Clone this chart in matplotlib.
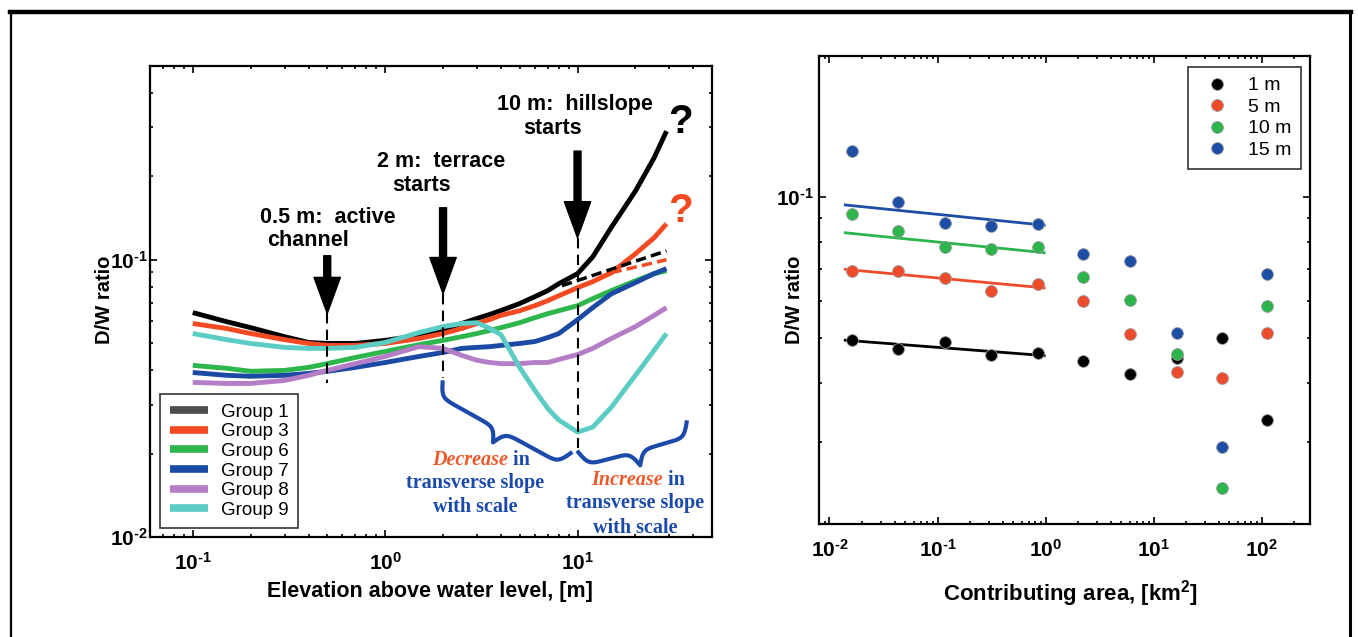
import numpy as np
import matplotlib
matplotlib.use('Agg')
import matplotlib.pyplot as plt
from matplotlib.lines import Line2D
from matplotlib.ticker import LogLocator, NullFormatter, FuncFormatter

plt.rcParams['font.family'] = ['Liberation Sans', 'DejaVu Sans']
plt.rcParams['mathtext.fontset'] = 'custom'
plt.rcParams['mathtext.rm'] = 'Liberation Sans:bold'
plt.rcParams['mathtext.bf'] = 'Liberation Sans:bold'
plt.rcParams['mathtext.it'] = 'Liberation Sans:bold:italic'
plt.rcParams['mathtext.sf'] = 'Liberation Sans:bold'

# ---- left panel: D/W ratio vs elevation, per group ----
elev = [0.1, 0.15, 0.2, 0.3, 0.4, 0.5, 0.7, 1, 1.5, 2, 2.5, 3, 3.5, 4, 5, 6, 7, 8, 10, 12, 15, 20, 25, 29]
group1 = [0.0645, 0.0598, 0.0569, 0.0528, 0.0503, 0.0499, 0.0499, 0.0512, 0.0533, 0.0556, 0.0589, 0.0614,
          0.0635, 0.0656, 0.0695, 0.0736, 0.0774, 0.0820, 0.0891, 0.1025, 0.1310, 0.1770, 0.2330, 0.2910]
group3 = [0.0589, 0.0565, 0.0542, 0.0515, 0.0499, 0.0491, 0.0491, 0.0499, 0.0520, 0.0542, 0.0565, 0.0589,
          0.0609, 0.0630, 0.0655, 0.0683, 0.0712, 0.0742, 0.0793, 0.0834, 0.0898, 0.1051, 0.1200, 0.1348]
group6 = [0.0416, 0.0406, 0.0396, 0.0399, 0.0409, 0.0422, 0.0444, 0.0467, 0.0494, 0.0512, 0.0528, 0.0542,
          0.0556, 0.0569, 0.0593, 0.0618, 0.0639, 0.0655, 0.0683, 0.0724, 0.0774, 0.0840, 0.0891, 0.0913]
group7 = [0.0392, 0.0383, 0.0380, 0.0383, 0.0389, 0.0396, 0.0409, 0.0426, 0.0448, 0.0463, 0.0479, 0.0483,
          0.0486, 0.0491, 0.0499, 0.0507, 0.0524, 0.0542, 0.0608, 0.0672, 0.0754, 0.0827, 0.0891, 0.0929]
group8 = [0.0361, 0.0358, 0.0358, 0.0367, 0.0383, 0.0399, 0.0422, 0.0448, 0.0486, 0.0479, 0.0452, 0.0434,
          0.0426, 0.0422, 0.0422, 0.0426, 0.0426, 0.0437, 0.0455, 0.0479, 0.0520, 0.0574, 0.0630, 0.0672]
group9 = [0.0542, 0.0515, 0.0499, 0.0483, 0.0479, 0.0479, 0.0483, 0.0503, 0.0546, 0.0574, 0.0589, 0.0593,
          0.0565, 0.0537, 0.0409, 0.0338, 0.0291, 0.0264, 0.0239, 0.0249, 0.0294, 0.0383, 0.0471, 0.0542]
group_names = ['Group 1', 'Group 3', 'Group 6', 'Group 7', 'Group 8', 'Group 9']
group_cols = ['#000000', '#f34a22', '#2db64b', '#1b4aa5', '#b57dc6', '#5ccdc5']

# extrapolated (dashed) trends
dash1_x, dash1_y = [8.3, 29], [0.0806, 0.1077]
dash3_x, dash3_y = [15, 29], [0.0898, 0.100]

# marked scales: elevation, arrow top, arrow tip, dashed-line bottom
marks_x = [0.5, 2, 10]
arrow_top = [0.1034, 0.154, 0.2466]
arrow_tip = [0.064, 0.0755, 0.120]
dash_bottom = [0.0359, 0.0373, 0.0209]

# ---- right panel: D/W ratio vs contributing area ----
area = [0.0163, 0.0435, 0.116, 0.31, 0.843, 2.2, 6.0, 16.3, 42.7, 111]
dw_1m = [0.0495, 0.0473, 0.0490, 0.0459, 0.0463, 0.0445, 0.0418, 0.0453, 0.0499, 0.0333]
dw_5m = [0.0694, 0.0696, 0.0671, 0.0629, 0.0650, 0.0598, 0.0509, 0.0422, 0.0411, 0.0513]
dw_10m = [0.0920, 0.0846, 0.0782, 0.0774, 0.0782, 0.0674, 0.0603, 0.0461, 0.0239, 0.0586]
dw_15m = [0.1256, 0.0975, 0.0880, 0.0867, 0.0875, 0.0755, 0.0729, 0.0511, 0.0292, 0.0684]
fit_area = [0.014, 0.97]
fit_1m = [0.0494, 0.0458]
fit_5m = [0.0700, 0.0639]
fit_10m = [0.0838, 0.0760]
fit_15m = [0.0961, 0.0870]
size_names = ['1 m', '5 m', '10 m', '15 m']
size_cols = ['#000000', '#ee4b2b', '#2bb54b', '#1c4ea6']

BLUE_TXT = '#1c4aaa'
RED_TXT = '#f05a2a'


def decade_label(v, pos):
    e = int(np.round(np.log10(v)))
    sign = '\u2010' if e < 0 else ''
    return r'$\mathbf{10^{%s%d}}$' % (sign, abs(e))


def style_axes(ax, ypad):
    ax.set_xscale('log')
    ax.set_yscale('log')
    for s in ax.spines.values():
        s.set_linewidth(1.6)
    ax.tick_params(which='both', direction='in', top=True, right=True, width=1.2)
    ax.tick_params(which='major', length=5, labelsize=15)
    ax.tick_params(which='minor', length=2.5)
    ax.tick_params(axis='x', which='major', pad=11)
    ax.tick_params(axis='y', which='major', pad=ypad)
    for a in (ax.xaxis, ax.yaxis):
        a.set_major_formatter(FuncFormatter(decade_label))
        a.set_minor_locator(LogLocator(base=10, subs=np.arange(2, 10)))
        a.set_minor_formatter(NullFormatter())


def brace(ax, p1, p2, width, beta, **kw):
    t = ax.transData
    a = t.transform(p1)
    b = t.transform(p2)
    d = b - a
    L = np.hypot(*d)
    u = d / L
    n = np.array([u[1], -u[0]])
    s = np.linspace(0, L / 2, 101)
    h = 1 / (1 + np.exp(-beta * (s - s[0]))) + 1 / (1 + np.exp(-beta * (s - s[-1]))) - 0.5
    h = np.concatenate([h, h[-2::-1]])
    s = np.linspace(0, L, len(h))
    pts = a + np.outer(s, u) + np.outer(h * width, n)
    xy = t.inverted().transform(pts)
    ax.plot(xy[:, 0], xy[:, 1], **kw)


fig = plt.figure(figsize=(13.58, 6.37), dpi=100)
axL = fig.add_axes([0.1105, 0.157, 0.4138, 0.7394])
axR = fig.add_axes([0.6031, 0.1774, 0.3616, 0.7347])

# ---------------- left panel ----------------
style_axes(axL, 1.5)
axL.set_xlim(0.06, 50)
axL.set_ylim(0.01, 0.5)

series = [group1, group3, group6, group7, group8, group9]
for vals, col in zip(series, group_cols):
    axL.plot(elev, vals, color=col, lw=3.5, solid_capstyle='butt')
axL.plot(dash1_x, dash1_y, color='black', lw=2.5, ls=(0, (3, 1.5)))
axL.plot(dash3_x, dash3_y, color=group_cols[1], lw=2.5, ls=(0, (3, 1.5)))

for xm, top, tip, bot in zip(marks_x, arrow_top, arrow_tip, dash_bottom):
    axL.plot([xm, xm], [tip, bot], color='black', lw=1.5, ls=(0, (5, 3)))
    axL.annotate('', xy=(xm, tip), xytext=(xm, top),
                 arrowprops=dict(facecolor='black', edgecolor='black', width=5,
                                 headwidth=19, headlength=26, shrink=0))

lab_kw = dict(fontsize=15.5, fontweight='bold', ha='center', va='center')
axL.text(0.502, 0.1416, '0.5 m:  active', **lab_kw)
axL.text(0.396, 0.117, 'channel', **lab_kw)
axL.text(1.944, 0.227, '2 m:  terrace', **lab_kw)
axL.text(1.552, 0.186, 'starts', **lab_kw)
axL.text(9.65, 0.364, '10 m:  hillslope', **lab_kw)
axL.text(7.43, 0.2985, 'starts', **lab_kw)
axL.text(34.4, 0.3136, '?', fontsize=29, fontweight='bold', ha='center', va='center', color='black')
axL.text(34.4, 0.150, '?', fontsize=29, fontweight='bold', ha='center', va='center', color=group_cols[1])

fig.canvas.draw()
brace(axL, (1.99, 0.0361), (9.2, 0.02005), 28, 0.3, color=BLUE_TXT, lw=3)
brace(axL, (10.1, 0.0202), (36.9, 0.0259), 29, 0.3, color=BLUE_TXT, lw=3)

serif_b = dict(family=['Liberation Serif', 'DejaVu Serif'], fontweight='bold', fontsize=14.5)
axL.text(4.36, 0.0189, 'Decrease', color=RED_TXT, style='italic', ha='right', va='center', **serif_b)
axL.text(4.36, 0.0189, ' in', color=BLUE_TXT, ha='left', va='center', **serif_b)
axL.text(2.94, 0.01563, 'transverse slope', color=BLUE_TXT, ha='center', va='center', **serif_b)
axL.text(2.94, 0.01282, 'with scale', color=BLUE_TXT, ha='center', va='center', **serif_b)
axL.text(27.7, 0.0160, 'Increase', color=RED_TXT, style='italic', ha='right', va='center', **serif_b)
axL.text(27.7, 0.0160, ' in', color=BLUE_TXT, ha='left', va='center', **serif_b)
axL.text(19.9, 0.01325, 'transverse slope', color=BLUE_TXT, ha='center', va='center', **serif_b)
axL.text(19.9, 0.01076, 'with scale', color=BLUE_TXT, ha='center', va='center', **serif_b)

handles = [Line2D([], [], color='#4d4d4d' if i == 0 else c, lw=5.5, solid_capstyle='butt')
           for i, c in enumerate(group_cols)]
legL = axL.legend(handles, group_names, loc='lower left', bbox_to_anchor=(0.018, 0.019),
                  borderaxespad=0, fontsize=13.5, frameon=True, fancybox=False, framealpha=1,
                  edgecolor='#333333', handlelength=2.05, handletextpad=0.7, labelspacing=0.13,
                  borderpad=0.5)
legL.get_frame().set_linewidth(1.2)

axL.set_xlabel('Elevation above water level, [m]', fontsize=15.5, fontweight='bold')
axL.set_ylabel('D/W ratio', fontsize=14.5, fontweight='bold')
axL.xaxis.set_label_coords(0.498, -0.094)
axL.yaxis.set_label_coords(-0.065, 0.503)

# ---------------- right panel ----------------
style_axes(axR, 4)
axR.set_xlim(0.008, 280)
axR.set_ylim(0.02, 0.2)

fits = [fit_1m, fit_5m, fit_10m, fit_15m]
pts = [dw_1m, dw_5m, dw_10m, dw_15m]
for f, c in zip(fits, size_cols):
    axR.plot(fit_area, f, color=c, lw=2.0)
for p, c, name in zip(pts, size_cols, size_names):
    axR.plot(area, p, ls='none', marker='o', ms=8.5, mfc=c, mec='#9a9a9a', mew=0.6, label=name)

legR = axR.legend(loc='upper right', bbox_to_anchor=(0.9817, 0.9765), borderaxespad=0,
                  fontsize=14, frameon=True, fancybox=False, framealpha=1, edgecolor='#333333',
                  handlelength=2.0, handletextpad=0.6, labelspacing=0.2, borderpad=0.5, numpoints=1)
legR.get_frame().set_linewidth(1.2)

axR.set_xlabel('Contributing area, [km$^2$]', fontsize=16, fontweight='bold')
axR.set_ylabel('D/W ratio', fontsize=14.5, fontweight='bold')
axR.xaxis.set_label_coords(0.513, -0.115)
axR.yaxis.set_label_coords(-0.031, 0.479)

# outer frame of the figure
for xs, ys, w in [([0.0074, 0.9948], [0.981, 0.981], 3.2),
                  ([0.0081, 0.0081], [0.0, 0.981], 1.6),
                  ([0.9941, 0.9941], [0.0, 0.981], 2.2)]:
    fig.add_artist(Line2D(xs, ys, transform=fig.transFigure, color='black', lw=w))

fig.savefig('out.png', dpi=100)
